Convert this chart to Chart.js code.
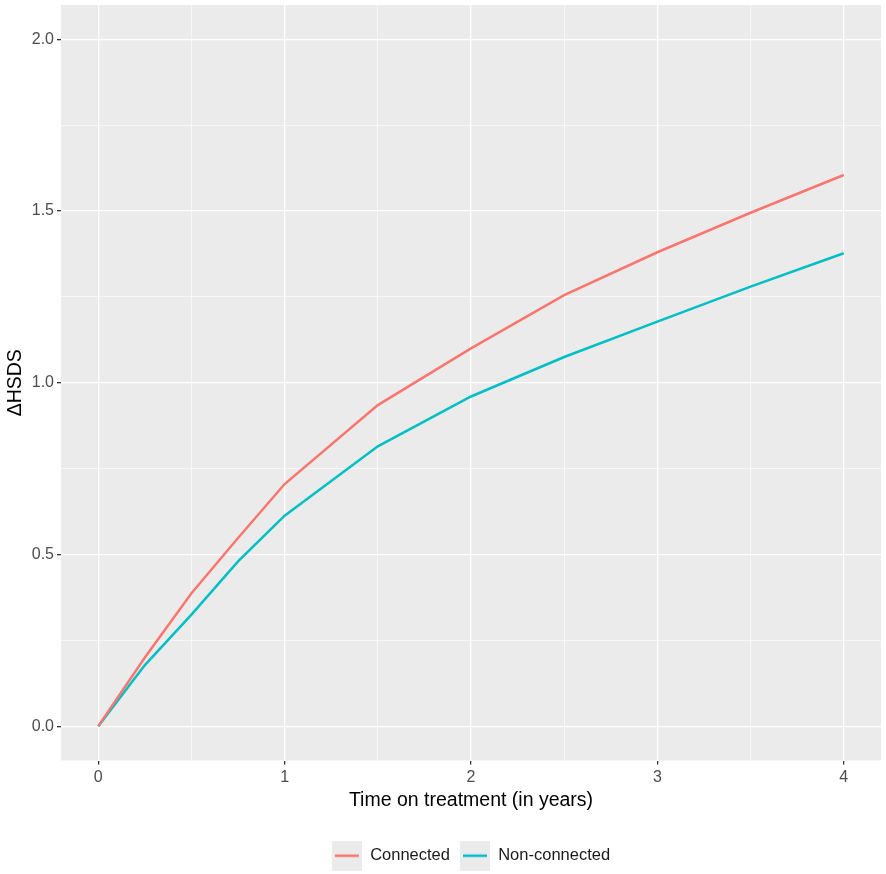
<!DOCTYPE html>
<html>
<head>
<meta charset="utf-8">
<script src="https://cdn.jsdelivr.net/npm/chart.js@4/dist/chart.umd.min.js"></script>
<style>
  html, body { margin: 0; padding: 0; background: #fff; }
  #wrap { width: 886px; height: 874px; }
</style>
</head>
<body>
<div id="wrap"><canvas id="myChart"></canvas></div>
<script>
// years on treatment
const years = [0, 0.25, 0.5, 0.75, 1, 1.5, 2, 2.5, 3, 3.5, 4];
const connected = [0, 0.20, 0.387, 0.548, 0.705, 0.935, 1.10, 1.255, 1.38, 1.495, 1.605];
const nonConnected = [0, 0.178, 0.325, 0.48, 0.613, 0.815, 0.96, 1.075, 1.178, 1.28, 1.377];

const xTicks = [0, 0.5, 1, 1.5, 2, 2.5, 3, 3.5, 4];
const yTicks = [0, 0.25, 0.5, 0.75, 1, 1.25, 1.5, 1.75, 2];

const red = '#F8766D';
const teal = '#00BFC4';

function keyIcon(color) {
  const c = document.createElement('canvas');
  c.width = 30; c.height = 30;
  const g = c.getContext('2d');
  g.fillStyle = '#EBEBEB';
  g.fillRect(0, 0, 30, 30);
  g.strokeStyle = color;
  g.lineWidth = 2.5;
  g.beginPath();
  g.moveTo(3, 15); g.lineTo(27, 15);
  g.stroke();
  return c;
}

const panelBg = {
  id: 'panelBg',
  beforeDraw(chart) {
    const a = chart.chartArea;
    const g = chart.ctx;
    g.save();
    g.fillStyle = '#EBEBEB';
    g.fillRect(a.left, a.top, a.right - a.left, a.bottom - a.top);
    g.restore();
  }
};

const onStep = (v, step) => Math.abs(v / step - Math.round(v / step)) < 1e-9;
const xMajor = v => onStep(v, 1);
const yMajor = v => onStep(v, 0.5);
const FONT = 'Liberation Sans, Arial, sans-serif';

function noPad(axis) {
  axis.paddingTop = 0; axis.paddingBottom = 0;
  axis.paddingLeft = 0; axis.paddingRight = 0;
}

const ctx = document.getElementById('myChart');
const chart = new Chart(ctx, {
  type: 'line',
  data: {
    datasets: [
      {
        label: 'Connected',
        data: years.map((x, i) => ({ x: x, y: connected[i] })),
        borderColor: red,
        backgroundColor: red,
        borderWidth: 2.5,
        pointRadius: 0,
        pointStyle: keyIcon(red)
      },
      {
        label: 'Non-connected',
        data: years.map((x, i) => ({ x: x, y: nonConnected[i] })),
        borderColor: teal,
        backgroundColor: teal,
        borderWidth: 2.5,
        pointRadius: 0,
        pointStyle: keyIcon(teal)
      }
    ]
  },
  options: {
    responsive: true,
    maintainAspectRatio: false,
    animation: false,
    layout: { autoPadding: false, padding: { left: 4, right: 5, top: 5, bottom: 0 } },
    plugins: {
      legend: {
        position: 'bottom',
        fullSize: false,
        labels: {
          usePointStyle: true,
          pointStyleWidth: 30,
          color: '#1A1A1A',
          font: { family: FONT, size: 16.5 },
          padding: 10
        }
      },
      tooltip: { enabled: false }
    },
    scales: {
      x: {
        type: 'linear',
        min: -0.2,
        max: 4.2,
        afterBuildTicks: axis => { axis.ticks = xTicks.map(v => ({ value: v })); },
        afterFit: axis => { axis.height = 77; noPad(axis); },
        grid: {
          color: '#FFFFFF',
          lineWidth: c => xMajor(c.tick.value) ? 1.3 : 0.6,
          tickColor: c => xMajor(c.tick.value) ? '#333333' : 'rgba(0,0,0,0)',
          tickLength: 4
        },
        border: { display: false },
        ticks: {
          color: '#4D4D4D',
          font: { family: FONT, size: 16 },
          padding: 3,
          maxRotation: 0,
          autoSkip: false,
          callback: v => xMajor(v) ? String(v) : ''
        },
        title: {
          display: true,
          text: 'Time on treatment (in years)',
          color: '#000000',
          font: { family: FONT, size: 19.5 },
          padding: { top: 0, bottom: 25 }
        }
      },
      y: {
        type: 'linear',
        min: -0.1,
        max: 2.1,
        afterBuildTicks: axis => { axis.ticks = yTicks.map(v => ({ value: v })); },
        afterFit: axis => { axis.width = 57; noPad(axis); },
        grid: {
          color: '#FFFFFF',
          lineWidth: c => yMajor(c.tick.value) ? 1.3 : 0.6,
          tickColor: c => yMajor(c.tick.value) ? '#333333' : 'rgba(0,0,0,0)',
          tickLength: 4
        },
        border: { display: false },
        ticks: {
          color: '#4D4D4D',
          font: { family: FONT, size: 16 },
          padding: 3,
          autoSkip: false,
          callback: v => yMajor(v) ? v.toFixed(1) : ''
        },
        title: {
          display: true,
          text: 'ΔHSDS',
          color: '#000000',
          font: { family: FONT, size: 19.5 },
          padding: { top: 0, bottom: 0 }
        }
      }
    }
  },
  plugins: [panelBg]
});
</script>
</body>
</html>
